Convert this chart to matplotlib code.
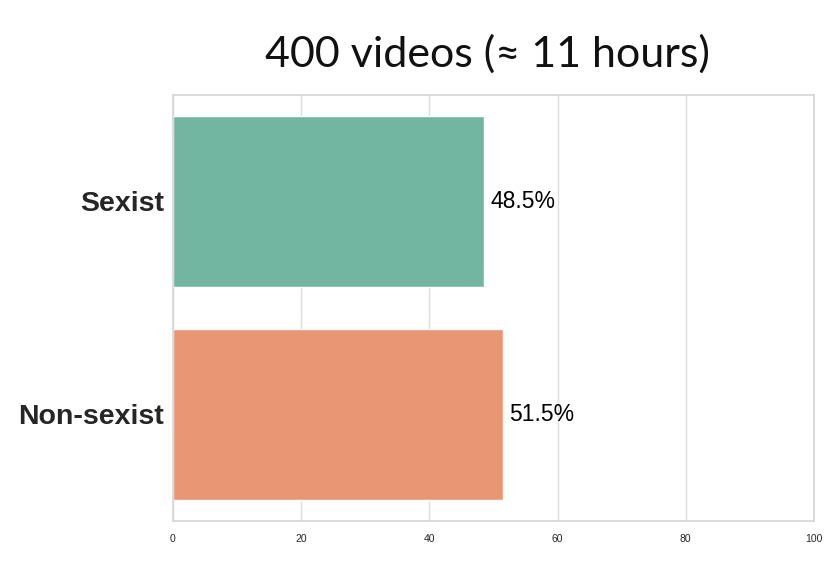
import matplotlib
matplotlib.use("Agg")
import matplotlib.pyplot as plt
import seaborn as sns
import numpy as np

categories = ["Sexist", "Non-sexist"]
percentages = [48.5, 51.5]
xticks = [0, 20, 40, 60, 80, 100]

sns.set_theme(style="whitegrid")
plt.rcParams["font.family"] = ["Liberation Sans", "DejaVu Sans"]

fig = plt.figure(figsize=(8.31, 5.86), dpi=100)
ax = fig.add_axes([0.208, 0.111, 0.7715, 0.727])

sns.barplot(x=percentages, y=categories, hue=categories, palette="Set2",
            saturation=0.75, legend=False, ax=ax)

for i, v in enumerate(percentages):
    ax.text(v + 1, i, f"{v}%", va="center", ha="left", fontsize=16.5, color="black")

ax.set_xlim(0, 100)
ax.set_xticks(xticks)
ax.set_xticklabels([str(t) for t in xticks], fontsize=7.5)
ax.tick_params(axis="y", labelsize=20.5, pad=0.5)
for lab in ax.get_yticklabels():
    lab.set_fontweight("bold")
ax.grid(axis="x", color="#dddddd")
for s in ax.spines.values():
    s.set_color("#d6d6d6")
ax.set_xlabel("")
ax.set_ylabel("")
ax.set_title("400 videos (≈ 11 hours)", fontsize=31, family=["Lato", "DejaVu Sans"],
             pad=20, color="#111111", x=0.49)

fig.savefig("out.png", dpi=100)
